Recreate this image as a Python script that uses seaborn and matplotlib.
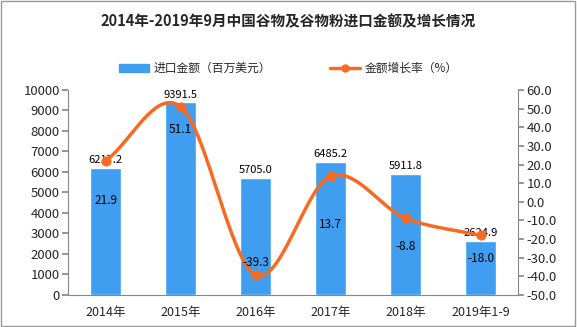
import numpy as np
import pandas as pd
import matplotlib
matplotlib.use("Agg")
import matplotlib.pyplot as plt
import seaborn as sns
from matplotlib.patches import Patch
from matplotlib.lines import Line2D

categories = ["2014年", "2015年", "2016年", "2017年", "2018年", "2019年1-9"]
import_value = [6217.2, 9391.5, 5705.0, 6485.2, 5911.8, 2624.9]
growth_rate = [21.9, 51.1, -39.3, 13.7, -8.8, -18.0]
left_ticks = list(range(0, 10001, 1000))
right_ticks = list(range(-50, 61, 10))

title = "2014年-2019年9月中国谷物及谷物粉进口金额及增长情况"
bar_name = "进口金额（百万美元）"
line_name = "金额增长率（%）"

sns.set_theme(style="white")
plt.rcParams['font.family'] = ['Noto Sans CJK SC', 'DejaVu Sans']

BAR_C = "#3F9EF0"
LINE_C = "#F86A22"

fig = plt.figure(figsize=(5.77, 3.27), dpi=100)
ax = fig.add_axes([0.1179, 0.0979, 0.78, 0.627])

df = pd.DataFrame({"cat": categories, "val": import_value, "rate": growth_rate})
sns.barplot(data=df, x="cat", y="val", color=BAR_C, width=0.41, ax=ax, saturation=1)
ax.set_ylim(0, 10000)
ax.set_yticks(left_ticks)
ax.set_yticklabels([str(t) for t in left_ticks], fontsize=9.5)
ax.set_xlim(-0.5, len(categories) - 0.5)
ax.set_xticks(range(len(categories)))
ax.set_xticklabels(categories, fontsize=9)
ax.set_xlabel("")
ax.set_ylabel("")
ax.set_xticks(np.arange(len(categories) + 1) - 0.5, minor=True)
ax.tick_params(axis="x", which="major", length=0, pad=8)
ax.tick_params(axis="x", which="minor", length=4, color="#888888", direction="out")
ax.tick_params(axis="y", length=4, color="#888888", direction="out", left=True, pad=2)
for s in ["top", "right"]:
    ax.spines[s].set_visible(False)
for s in ["left", "bottom"]:
    ax.spines[s].set_color("#888888")
    ax.spines[s].set_linewidth(0.8)

for i, v in enumerate(import_value):
    ax.annotate(f"{v:.1f}", (i, v), xytext=(0, 2), textcoords="offset points",
                ha="center", va="bottom", fontsize=8, color="#000000")

ax2 = ax.twinx()
ax2.set_ylim(-50, 60)
ax2.set_yticks(right_ticks)
ax2.set_yticklabels([f"{t:.1f}" for t in right_ticks], fontsize=9.5)
ax2.tick_params(axis="y", length=4, color="#888888", direction="out", right=True, pad=2)
for s in ["top", "left", "bottom"]:
    ax2.spines[s].set_visible(False)
ax2.spines["right"].set_color("#888888")
ax2.spines["right"].set_linewidth(0.8)

# smooth line (Catmull-Rom through the data points)
xs = np.arange(len(growth_rate), dtype=float)
ys = np.array(growth_rate, dtype=float)
px = np.concatenate([[2 * xs[0] - xs[1]], xs, [2 * xs[-1] - xs[-2]]])
py = np.concatenate([[2 * ys[0] - ys[1]], ys, [2 * ys[-1] - ys[-2]]])
cx, cy = [], []
t = np.linspace(0, 1, 40)
for k in range(1, len(px) - 2):
    p0, p1, p2, p3 = py[k - 1], py[k], py[k + 1], py[k + 2]
    q0, q1, q2, q3 = px[k - 1], px[k], px[k + 1], px[k + 2]
    f = lambda a0, a1, a2, a3: 0.5 * ((2 * a1) + (-a0 + a2) * t + (2 * a0 - 5 * a1 + 4 * a2 - a3) * t ** 2 + (-a0 + 3 * a1 - 3 * a2 + a3) * t ** 3)
    cx.append(f(q0, q1, q2, q3))
    cy.append(f(p0, p1, p2, p3))
cx = np.concatenate(cx)
cy = np.concatenate(cy)
ax2.plot(cx, cy, color=LINE_C, lw=2.5, zorder=3)
sns.scatterplot(x=xs, y=ys, color=LINE_C, s=45, ax=ax2, zorder=4, edgecolor=LINE_C, legend=False)

label_offsets = [(0, -24), (0, -12), (0, 4), (0, -30), (0, -16), (0, -12)]
for i, r in enumerate(growth_rate):
    dx, dy = label_offsets[i]
    ax2.annotate(f"{r:.1f}", (i, r), xytext=(dx, dy), textcoords="offset points",
                 ha="center", va="bottom" if dy > 0 else "top", fontsize=8.5, color="#000000")

fig.text(0.5, 0.935, title, ha="center", va="center", fontsize=10.5, fontweight="bold")

handles = [Patch(facecolor=BAR_C, edgecolor=BAR_C),
           Line2D([0], [0], color=LINE_C, lw=2.5, marker="o", markersize=5)]
fig.legend(handles, [bar_name, line_name], loc="center", bbox_to_anchor=(0.5, 0.79),
           ncol=2, frameon=False, fontsize=8.5, handlelength=2.5, handleheight=0.6,
           columnspacing=5, handletextpad=0.4)

fig.patches.append(plt.Rectangle((0.002, 0.003), 0.995, 0.994, transform=fig.transFigure,
                                 fill=False, edgecolor="#999999", lw=1))
fig.savefig("out.png", dpi=100)
